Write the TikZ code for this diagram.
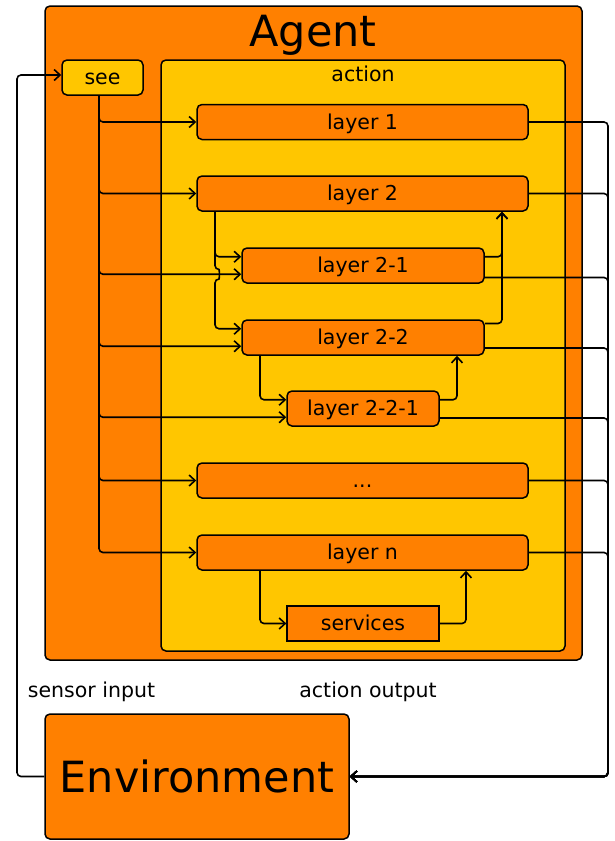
\documentclass[tikz,border=0pt]{standalone}
\usepackage{fontspec}
\setmainfont{DejaVu Sans}
\usepackage{tikz}
\usetikzlibrary{arrows.meta}
\definecolor{agentorange}{RGB}{255,128,0}
\definecolor{actionyellow}{RGB}{255,198,0}
\tikzstyle{box}=[draw,line width=1.5pt,rounded corners=5pt,inner sep=0pt,font=\fontsize{20.5}{24}\selectfont]
\tikzstyle{layer}=[box,fill=agentorange,minimum height=35pt,text height=15.5pt,text depth=1pt]
\tikzstyle{edge} = [draw,line width=1.6pt,rounded corners=4pt,-{Straight Barb[length=6pt,width=11pt]}]
\tikzstyle{label}=[font=\fontsize{20.5}{24}\selectfont]

\begin{document}
\begin{tikzpicture}[x=1pt,y=-1pt]
      \useasboundingbox (0,0) rectangle (615,841);
      % boxes
      \node[box,fill=agentorange,minimum width=537pt,minimum height=654pt] (agent) at (313.5,333) {};
      \node[font=\fontsize{43}{48}\selectfont] (agenttitle) at (313,35.5) {Agent};
      \node[box,fill=actionyellow,minimum width=404pt,minimum height=591pt] (action) at (363,355.5) {};
      \node[label] (actiontitle) at (363,74) {action};
      \node[box,fill=actionyellow,minimum width=81pt,minimum height=35pt,text height=15.5pt,text depth=1pt] (see) at (102.5,77.5) {see};
      \node[layer,minimum width=331pt] (lay1) at (362.5,122) {layer 1};
      \node[layer,minimum width=331pt] (lay2) at (362.5,193.5) {layer 2};
      \node[layer,minimum width=242pt] (lay21) at (363,265.5) {layer 2-1};
      \node[layer,minimum width=242pt] (lay22) at (363,337.5) {layer 2-2};
      \node[layer,minimum width=152pt] (lay221) at (363,408.5) {layer 2-2-1};
      \node[layer,minimum width=331pt] (dots) at (362.5,480.5) {...};
      \node[layer,minimum width=331pt] (layn) at (362.5,552.5) {layer n};
      \node[layer,sharp corners,line width=1.3pt,minimum width=152pt] (services) at (363,623.5) {services};
      \node[box,fill=agentorange,minimum width=304pt,minimum height=125pt,font=\fontsize{43}{48}\selectfont] (env) at (197,776.5) {Environment};
      \node[label] (sensorlabel) at (91.5,692) {sensor input};
      \node[label] (outputlabel) at (368,692) {action output};
      % helper coordinates
      \coordinate (bus) at (99,0);
      \coordinate (down2) at (215,0);
      \coordinate (up2) at (502,0);
      \coordinate (down22) at (260,0);
      \coordinate (up22) at (457,0);
      \coordinate (upn) at (466,0);
      \coordinate (inbus) at (17,400);
      \coordinate (outbus) at (608,700);
      % see to layers
      \foreach \t/\s in {lay1/0,lay2/0,lay21/-8.75,lay22/-8.75,lay221/-8.75,dots/0,layn/0}
        \draw[edge] (see.south -| bus) |- ([yshift=\s pt]\t.west);
      % layer 2 and its sublayers
      \draw[edge] (lay2.south -| down2) |- ([yshift=8.75pt]lay21.west);
      \draw[edge] (lay2.south -| down2) -- (215,269.5) .. controls (219.5,269.5) and (219.5,279) .. (215,279) |- ([yshift=8.75pt]lay22.west);
      \draw[edge] ([yshift=8.75pt]lay21.east) -| (lay2.south -| up2);
      \draw[edge] ([yshift=14pt]lay22.east) -| (lay2.south -| up2);
      \draw[edge] (lay22.south -| down22) |- ([yshift=8.75pt]lay221.west);
      \draw[edge] ([yshift=8.75pt]lay221.east) -| (lay22.south -| up22);
      \draw[edge] (layn.south -| down22) |- (services.west);
      \draw[edge] (services.east) -| (layn.south -| upn);
      % action output
      \foreach \t/\s in {lay1/0,lay2/0,lay21/-12,lay22/-10.5,lay221/-9.5,dots/0,layn/0}
        \draw[edge] ([yshift=\s pt]\t.east) -| (outbus) |- (env.east);
      % sensor input
      \draw[edge] (env.west) -| (inbus) |- ([yshift=2.5pt]see.west);
    \end{tikzpicture}
\end{document}
